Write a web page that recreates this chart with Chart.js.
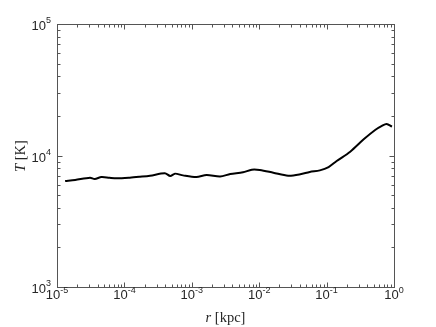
<!DOCTYPE html>
<html>
<head>
<meta charset="utf-8">
<script src="https://cdn.jsdelivr.net/npm/chart.js@4.4.0/dist/chart.umd.min.js"></script>
<style>
  html, body { margin: 0; padding: 0; background: #fff; }
  canvas { display: block; }
</style>
</head>
<body>
<canvas id="myChart" width="436" height="327"></canvas>
<script>
// radius in kpc
var radius = [1.32e-5, 1.86e-5, 3.09e-5, 3.63e-5, 4.57e-5, 6.03e-5, 7.76e-5, 1.20e-4, 1.70e-4, 2.40e-4,
  3.98e-4, 4.79e-4, 5.62e-4, 7.41e-4, 1.17e-3, 1.66e-3, 2.63e-3, 3.72e-3, 5.75e-3, 7.76e-3,
  1.02e-2, 1.62e-2, 2.69e-2, 4.07e-2, 5.62e-2, 7.94e-2, 0.107, 0.141, 0.224, 0.355,
  0.525, 0.661, 0.776, 0.933];
// temperature in K
var temperature = [6400, 6520, 6780, 6620, 6860, 6760, 6700, 6780, 6890, 7020,
  7330, 6980, 7280, 7060, 6860, 7110, 6920, 7230, 7450, 7800,
  7760, 7400, 7020, 7190, 7500, 7710, 8170, 9080, 10690, 13270,
  15630, 16790, 17380, 16560];

// decade ticks: value and exponent label
var xTicks = [1e-5, 1e-4, 1e-3, 1e-2, 1e-1, 1];
var xTickExp = ['-5', '-4', '-3', '-2', '-1', '0'];
var yTicks = [1e3, 1e4, 1e5];
var yTickExp = ['3', '4', '5'];

var points = radius.map(function (r, i) { return { x: r, y: temperature[i] }; });

var axisColor = '#555';
var textColor = '#262626';

// draws box, inward ticks, 10^n labels and axis titles
var axesPlugin = {
  id: 'matlabAxes',
  afterDraw: function (chart) {
    var ctx = chart.ctx;
    var a = chart.chartArea;
    var xs = chart.scales.x, ys = chart.scales.y;
    ctx.save();
    ctx.strokeStyle = axisColor;
    ctx.lineWidth = 1;
    var L = Math.round(a.left) + 0.5, R = Math.round(a.right) + 0.5;
    var T = Math.round(a.top) + 0.5, B = Math.round(a.bottom) + 0.5;
    ctx.strokeRect(L, T, R - L, B - T);

    ctx.beginPath();
    // x ticks (major + minor)
    for (var e = -5; e <= 0; e++) {
      for (var m = 1; m <= 9; m++) {
        var v = m * Math.pow(10, e);
        if (v > 1.0000001) break;
        var px = Math.round(xs.getPixelForValue(v)) + 0.5;
        var len = m === 1 ? 5 : 3;
        ctx.moveTo(px, B); ctx.lineTo(px, B - len);
        ctx.moveTo(px, T); ctx.lineTo(px, T + len);
      }
    }
    // y ticks
    for (var e2 = 3; e2 <= 5; e2++) {
      for (var m2 = 1; m2 <= 9; m2++) {
        var v2 = m2 * Math.pow(10, e2);
        if (v2 > 1.0000001e5) break;
        var py = Math.round(ys.getPixelForValue(v2)) + 0.5;
        var len2 = m2 === 1 ? 5 : 3;
        ctx.moveTo(L, py); ctx.lineTo(L + len2, py);
        ctx.moveTo(R, py); ctx.lineTo(R - len2, py);
      }
    }
    ctx.stroke();

    ctx.fillStyle = textColor;
    var base = '13px "Liberation Sans", Arial, sans-serif';
    var sup = '9px "Liberation Sans", Arial, sans-serif';

    // x tick labels, centred under tick
    xTicks.forEach(function (v, i) {
      var px = xs.getPixelForValue(v);
      ctx.font = base; var w1 = ctx.measureText('10').width;
      ctx.font = sup; var w2 = ctx.measureText(xTickExp[i]).width;
      var x0 = px - (w1 + w2) / 2;
      ctx.textAlign = 'left'; ctx.textBaseline = 'alphabetic';
      ctx.font = base; ctx.fillText('10', x0, a.bottom + 12);
      ctx.font = sup; ctx.fillText(xTickExp[i], x0 + w1, a.bottom + 6);
    });

    // y tick labels, right aligned left of axis
    yTicks.forEach(function (v, i) {
      var py = ys.getPixelForValue(v);
      ctx.font = sup; var w2 = ctx.measureText(yTickExp[i]).width;
      ctx.font = base; var w1 = ctx.measureText('10').width;
      var xr = a.left - 6;
      ctx.textAlign = 'left'; ctx.textBaseline = 'alphabetic';
      ctx.fillText('10', xr - w2 - w1, py + 6);
      ctx.font = sup; ctx.fillText(yTickExp[i], xr - w2, py - 1);
    });

    // axis titles
    var it = 'italic 14.5px "Liberation Serif", "DejaVu Serif", serif';
    var up = '14.5px "Liberation Serif", "DejaVu Serif", serif';
    ctx.font = it; var wr = ctx.measureText('r').width;
    ctx.font = up; var wk = ctx.measureText(' [kpc]').width;
    var cx = (a.left + a.right) / 2;
    var xt = cx - (wr + wk) / 2;
    ctx.font = it; ctx.fillText('r', xt, 322);
    ctx.font = up; ctx.fillText(' [kpc]', xt + wr, 322);

    ctx.translate(25, 156);
    ctx.rotate(-Math.PI / 2);
    ctx.font = it; var wt = ctx.measureText('T').width;
    ctx.font = up; var wK = ctx.measureText(' [K]').width;
    var yt = -(wt + wK) / 2;
    ctx.font = it; ctx.fillText('T', yt, 0);
    ctx.font = up; ctx.fillText(' [K]', yt + wt, 0);
    ctx.restore();
  }
};

var ctx = document.getElementById('myChart').getContext('2d');

var myChart = new Chart(ctx, {
  type: 'scatter',
  data: {
    datasets: [{
      label: 'T',
      data: points,
      showLine: true,
      borderColor: '#000',
      backgroundColor: '#000',
      borderWidth: 2,
      pointRadius: 0,
      tension: 0.3
    }]
  },
  options: {
    responsive: false,
    animation: false,
    layout: { padding: { left: 57, right: 42, top: 24, bottom: 40 } },
    plugins: { legend: { display: false }, tooltip: { enabled: false } },
    scales: {
      x: { type: 'logarithmic', min: 1e-5, max: 1, display: false },
      y: { type: 'logarithmic', min: 1e3, max: 1e5, display: false }
    }
  },
  plugins: [axesPlugin]
});
</script>
</body>
</html>
